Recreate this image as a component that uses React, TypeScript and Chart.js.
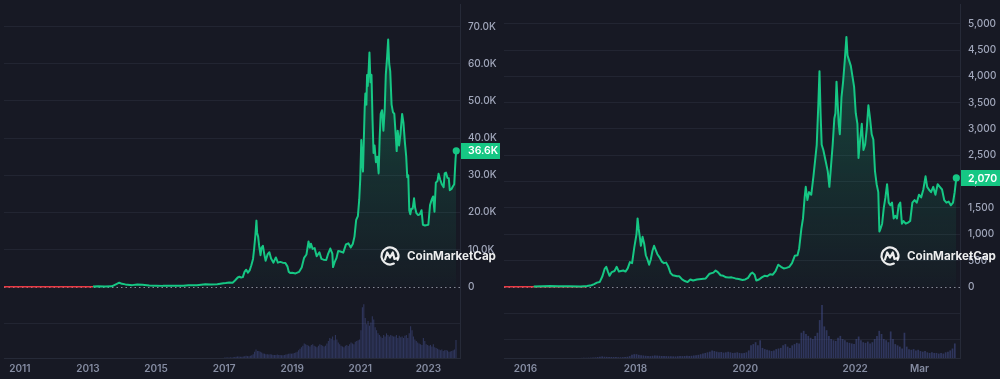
import React, { useEffect, useRef } from 'react';
import { Chart, registerables } from 'chart.js';
Chart.register(...registerables);

// ---------------- Bitcoin ----------------
const BTC_DATES = [
  2013.15, 2013.3, 2013.5, 2013.7, 2013.85, 2013.92, 2014.0, 2014.1, 2014.3, 2014.45, 2014.6, 2014.8,
  2015.0, 2015.2, 2015.5, 2015.8, 2015.95, 2016.2, 2016.45, 2016.6, 2016.8, 2016.98, 2017.05, 2017.15,
  2017.25, 2017.32, 2017.4, 2017.45, 2017.5, 2017.55, 2017.6, 2017.65, 2017.7, 2017.75, 2017.8, 2017.85,
  2017.88, 2017.92, 2017.95, 2017.97, 2018.0, 2018.03, 2018.07, 2018.1, 2018.14, 2018.18, 2018.22, 2018.28,
  2018.33, 2018.38, 2018.45, 2018.52, 2018.58, 2018.65, 2018.72, 2018.8, 2018.86, 2018.9, 2018.95, 2019.0,
  2019.1, 2019.2, 2019.28, 2019.35, 2019.42, 2019.48, 2019.52, 2019.55, 2019.6, 2019.66, 2019.72, 2019.8,
  2019.86, 2019.92, 2020.0, 2020.05, 2020.12, 2020.18, 2020.2, 2020.25, 2020.3, 2020.35, 2020.42, 2020.5,
  2020.58, 2020.65, 2020.72, 2020.78, 2020.83, 2020.88, 2020.93, 2020.97, 2021.0, 2021.03, 2021.06, 2021.08,
  2021.1, 2021.13, 2021.15, 2021.18, 2021.2, 2021.22, 2021.25, 2021.27, 2021.3, 2021.33, 2021.36, 2021.39,
  2021.42, 2021.46, 2021.5, 2021.54, 2021.57, 2021.6, 2021.64, 2021.68, 2021.72, 2021.75, 2021.79, 2021.82,
  2021.85, 2021.88, 2021.92, 2021.96, 2022.0, 2022.04, 2022.07, 2022.1, 2022.14, 2022.18, 2022.23, 2022.27,
  2022.31, 2022.35, 2022.38, 2022.41, 2022.44, 2022.47, 2022.5, 2022.54, 2022.58, 2022.61, 2022.65, 2022.7,
  2022.75, 2022.8, 2022.84, 2022.9, 2022.96, 2023.0, 2023.05, 2023.1, 2023.14, 2023.18, 2023.22, 2023.27,
  2023.3, 2023.35, 2023.4, 2023.45, 2023.48, 2023.52, 2023.56, 2023.6, 2023.63, 2023.68, 2023.72, 2023.76,
  2023.8, 2023.82,
];
const BTC_PRICES = [
  50, 130, 100, 130, 800, 1100, 800, 650, 450, 620, 580, 380,
  300, 250, 260, 300, 430, 420, 700, 600, 700, 960, 1000, 1150,
  1100, 1700, 2500, 2700, 2500, 2600, 4000, 4600, 3800, 4400, 5800, 7500,
  10000, 14000, 17800, 14500, 13500, 11000, 8500, 10500, 11000, 8800, 7000, 8800,
  9300, 7600, 6500, 7900, 6500, 6700, 6500, 6400, 5500, 4000, 3700, 3800,
  3600, 4000, 5200, 7800, 8700, 12200, 10500, 11600, 10200, 10400, 8200, 9300,
  7500, 7300, 7200, 8700, 10300, 8900, 5300, 6700, 7700, 9600, 9500, 9200,
  11400, 11700, 10600, 11500, 13500, 18000, 19000, 23500, 29000, 39500, 33000, 31000,
  38000, 48000, 52000, 49000, 57000, 54000, 59000, 63000, 55000, 57000, 45000, 36000,
  38000, 33500, 35000, 30500, 40000, 46500, 47500, 42000, 48000, 57000, 62000, 66500,
  60000, 58000, 49000, 47000, 46500, 41000, 36500, 42000, 38000, 41000, 46500, 44000,
  39000, 35000, 29500, 30000, 20500, 19500, 21000, 21000, 23800, 21300, 19800, 19300,
  19500, 20600, 16700, 16500, 16600, 16700, 22000, 23500, 24300, 20200, 28000, 28500,
  30400, 28800, 27500, 26800, 30500, 30700, 29300, 29200, 26000, 26300, 27000, 27600,
  34500, 36600,
];
const BTC_RED_DATES = [2010.534, 2013.15];
const BTC_RED_VALUES = [0, 0];
const BTC_VOL_START = 2017.0;
// half-monthly volume, billions USD
const BTC_VOLUMES = [
  3, 3, 3, 4, 4, 4, 5, 6, 8, 10, 9, 8, 8, 9, 12, 14, 12, 12, 14, 18, 25, 40, 55, 45,
  45, 40, 35, 30, 28, 25, 25, 22, 25, 22, 20, 20, 20, 22, 20, 20, 18, 18, 20, 22, 25, 28, 30, 28,
  30, 32, 35, 40, 50, 60, 70, 80, 95, 90, 85, 80, 75, 85, 90, 80, 75, 70, 80, 90, 85, 80, 75, 80,
  95, 110, 130, 125, 140, 115, 150, 120, 100, 90, 80, 75, 70, 80, 85, 78, 90, 100, 95, 90, 105, 110, 115, 120,
  180, 330, 350, 260, 220, 240, 210, 230, 272, 250, 200, 180, 160, 150, 140, 130, 150, 140, 160, 150, 140, 150, 145, 140,
  140, 150, 130, 145, 135, 140, 130, 145, 150, 130, 160, 207, 180, 140, 120, 110, 100, 95, 90, 85, 130, 110, 90, 85,
  80, 85, 75, 90, 70, 65, 60, 55, 50, 55, 45, 50, 52, 48, 40, 42, 45, 50, 55, 117,
];
const BTC_Y_TICKS = [-10000, 0, 10000, 20000, 30000, 40000, 50000, 60000, 70000];
const BTC_X_TICKS = [2011, 2013, 2015, 2017, 2019, 2021, 2023];
const BTC_X_LABELS = ['2011', '2013', '2015', '2017', '2019', '2021', '2023'];

// ---------------- Ethereum ----------------
const ETH_DATES = [
  2016.15, 2016.3, 2016.45, 2016.6, 2016.8, 2017.0, 2017.12, 2017.2, 2017.25, 2017.3, 2017.35, 2017.4,
  2017.44, 2017.47, 2017.5, 2017.53, 2017.57, 2017.62, 2017.66, 2017.7, 2017.74, 2017.78, 2017.82, 2017.86,
  2017.9, 2017.94, 2017.98, 2018.02, 2018.04, 2018.06, 2018.08, 2018.1, 2018.13, 2018.16, 2018.19, 2018.22,
  2018.25, 2018.28, 2018.31, 2018.34, 2018.37, 2018.4, 2018.44, 2018.48, 2018.52, 2018.56, 2018.6, 2018.64,
  2018.68, 2018.72, 2018.76, 2018.8, 2018.85, 2018.9, 2018.95, 2019.0, 2019.05, 2019.12, 2019.2, 2019.28,
  2019.35, 2019.42, 2019.46, 2019.5, 2019.55, 2019.6, 2019.65, 2019.7, 2019.75, 2019.82, 2019.88, 2019.95,
  2020.0, 2020.05, 2020.1, 2020.13, 2020.17, 2020.2, 2020.25, 2020.3, 2020.35, 2020.4, 2020.45, 2020.5,
  2020.55, 2020.6, 2020.65, 2020.7, 2020.75, 2020.8, 2020.85, 2020.9, 2020.95, 2020.98, 2021.02, 2021.05,
  2021.08, 2021.1, 2021.13, 2021.16, 2021.2, 2021.24, 2021.27, 2021.3, 2021.33, 2021.35, 2021.37, 2021.39,
  2021.42, 2021.46, 2021.5, 2021.53, 2021.56, 2021.59, 2021.62, 2021.64, 2021.66, 2021.68, 2021.7, 2021.72,
  2021.75, 2021.78, 2021.81, 2021.84, 2021.86, 2021.89, 2021.92, 2021.95, 2021.98, 2022.01, 2022.04, 2022.06,
  2022.09, 2022.12, 2022.15, 2022.18, 2022.21, 2022.24, 2022.27, 2022.3, 2022.33, 2022.36, 2022.39, 2022.42,
  2022.44, 2022.46, 2022.49, 2022.52, 2022.55, 2022.58, 2022.61, 2022.64, 2022.67, 2022.7, 2022.73, 2022.76,
  2022.79, 2022.82, 2022.85, 2022.88, 2022.92, 2022.96, 2023.0, 2023.04, 2023.08, 2023.12, 2023.16, 2023.2,
  2023.24, 2023.28, 2023.31, 2023.34, 2023.38, 2023.42, 2023.46, 2023.5, 2023.54, 2023.58, 2023.62, 2023.66,
  2023.7, 2023.74, 2023.78, 2023.81, 2023.84,
];
const ETH_PRICES = [
  6, 10, 14, 11, 11, 8, 14, 30, 50, 80, 90, 200,
  340, 380, 290, 210, 280, 300, 380, 290, 300, 310, 290, 350,
  470, 450, 750, 1000, 1300, 1100, 950, 780, 950, 820, 600, 520,
  420, 520, 680, 780, 700, 620, 560, 480, 450, 460, 380, 260,
  220, 210, 200, 200, 140, 110, 90, 140, 120, 140, 150, 160,
  250, 270, 310, 280, 220, 210, 180, 175, 180, 160, 150, 130,
  140, 170, 250, 270, 230, 120, 140, 180, 210, 200, 240, 230,
  300, 420, 380, 350, 360, 380, 450, 590, 600, 730, 1100, 1300,
  1700, 1900, 1650, 1800, 1750, 2100, 2400, 2700, 3500, 4100, 3300, 2700,
  2600, 2400, 2200, 1900, 2300, 2700, 3200, 3300, 3900, 3500, 3100, 2900,
  3600, 3900, 4300, 4750, 4400, 4300, 4200, 4000, 3800, 3300, 3100, 2450,
  2800, 3100, 2600, 2700, 3000, 3450, 3200, 2900, 2800, 2200, 1950, 1800,
  1050, 1100, 1200, 1500, 1700, 1950, 1600, 1550, 1600, 1300, 1350, 1300,
  1550, 1600, 1200, 1250, 1200, 1220, 1250, 1600, 1650, 1600, 1750, 1700,
  1850, 2100, 1900, 1850, 1800, 1900, 1750, 1950, 1900, 1850, 1650, 1600,
  1620, 1550, 1600, 1800, 2070,
];
const ETH_RED_DATES = [2015.609, 2017.1];
const ETH_RED_VALUES = [0, 0];
const ETH_VOL_START = 2017.0;
const ETH_VOLUMES = [
  0.2, 0.3, 0.3, 0.5, 0.6, 0.8, 1.0, 1.5, 2, 2.5, 2, 1.8, 1.5, 1.6, 1.5, 1.4, 1.2, 1.2, 1.3, 1.5, 2, 3, 5, 6,
  6, 5, 4.5, 4, 3.5, 3.2, 3, 3.5, 4, 3.8, 3.5, 3.2, 3, 3, 2.8, 2.7, 2.6, 2.5, 2.8, 3, 3, 3.2, 3.5, 3.2,
  3.5, 4, 4.5, 5, 6, 7, 8, 9, 10, 12, 11, 10, 9, 9.5, 8.5, 9, 10, 9, 8, 8.5, 9, 8, 7.5, 8,
  9, 12, 20, 22, 25, 20, 28, 16, 14, 13, 12, 11, 12, 14, 15, 16, 20, 22, 18, 16, 20, 22, 24, 23,
  40, 43, 38, 35, 32, 30, 35, 40, 60, 84, 50, 44, 35, 30, 28, 27, 32, 35, 30, 28, 25, 24, 23, 22,
  30, 34, 28, 25, 24, 26, 23, 25, 30, 35, 43, 38, 30, 28, 25, 42, 30, 22, 20, 18, 15, 40, 18, 14,
  13, 14, 12, 13, 11, 10, 11, 9, 8, 9, 8, 8, 7, 8, 7, 9, 10, 12, 15, 23,
];
const ETH_Y_TICKS = [-1000, -500, 0, 500, 1000, 1500, 2000, 2500, 3000, 3500, 4000, 4500, 5000];
const ETH_X_TICKS = [2016, 2018, 2020, 2022, 2023.17];
const ETH_X_LABELS = ['2016', '2018', '2020', '2022', 'Mar'];

const VOL_STEP = 1 / 24;
const BG = '#171924';
const GREEN = '#16c784';
const RED = '#ea3943';
const GRID = '#222532';

type Spec = {
  dates: number[]; prices: number[]; redDates: number[]; redValues: number[];
  volStart: number; volumes: number[]; yTicks: number[]; xTicks: number[]; xLabels: string[];
  xMin: number; xMax: number; yMin: number; yMax: number; volMax: number;
  fmt: (v: number) => string; badgeFmt: (v: number) => string;
};

function makeConfig(s: Spec): any {
  const last = s.prices.length - 1;
  const overlay = {
    id: 'overlay',
    beforeDatasetsDraw(chart: any) {
      const { ctx, chartArea, scales } = chart;
      const y0 = Math.round(scales.y.getPixelForValue(0)) + 0.5;
      ctx.save();
      ctx.strokeStyle = 'rgba(205,210,225,0.6)';
      ctx.lineWidth = 1.2;
      ctx.setLineDash([1.5, 3]);
      ctx.beginPath();
      ctx.moveTo(chartArea.left, y0);
      ctx.lineTo(chartArea.right, y0);
      ctx.stroke();
      ctx.restore();
    },
    afterDraw(chart: any) {
      const { ctx, chartArea, scales, width } = chart;
      // price badge
      const lv = s.prices[last];
      const by = scales.y.getPixelForValue(lv);
      ctx.save();
      ctx.fillStyle = GREEN;
      ctx.fillRect(chartArea.right + 1, Math.round(by - 8), width - chartArea.right - 1, 16);
      ctx.fillStyle = '#ffffff';
      ctx.font = '600 10.5px Inter, "Noto Sans", sans-serif';
      ctx.textBaseline = 'middle';
      ctx.textAlign = 'left';
      ctx.fillText(s.badgeFmt(lv), chartArea.right + 8, by + 0.5);
      // watermark
      const cy = 256;
      const cx = 390;
      ctx.strokeStyle = 'rgba(255,255,255,0.92)';
      ctx.lineWidth = 2.2;
      ctx.lineCap = 'round';
      ctx.lineJoin = 'round';
      ctx.beginPath();
      ctx.arc(cx, cy, 8.5, Math.PI * 0.35, Math.PI * 2.15);
      ctx.stroke();
      ctx.beginPath();
      ctx.moveTo(cx - 5, cy + 3.5);
      ctx.lineTo(cx - 2.8, cy - 3.5);
      ctx.lineTo(cx, cy + 1.5);
      ctx.lineTo(cx + 2.8, cy - 3.5);
      ctx.lineTo(cx + 4.5, cy + 3);
      ctx.lineTo(cx + 7.5, cy + 2);
      ctx.stroke();
      const text = 'CoinMarketCap';
      ctx.font = '700 13px Inter, "Noto Sans", sans-serif';
      const w = ctx.measureText(text).width;
      const size = 13 * 89 / w;
      ctx.font = `700 ${size}px Inter, "Noto Sans", sans-serif`;
      ctx.fillStyle = 'rgba(255,255,255,0.92)';
      ctx.textBaseline = 'middle';
      ctx.fillText(text, 407, cy + 0.5);
      ctx.restore();
    },
  };

  return {
    type: 'line',
    data: {
      datasets: [
        {
          type: 'line',
          data: s.dates.map((x, i) => ({ x, y: s.prices[i] })),
          borderColor: GREEN,
          borderWidth: 2,
          borderJoinStyle: 'round',
          tension: 0,
          fill: 'origin',
          backgroundColor: (c: any) => {
            const chart = c.chart;
            const { ctx, chartArea, scales } = chart;
            if (!chartArea) return 'rgba(22,199,132,0.1)';
            const y0 = scales.y.getPixelForValue(0);
            const g = ctx.createLinearGradient(0, chartArea.top + 20, 0, y0);
            g.addColorStop(0, 'rgba(22,199,132,0.30)');
            g.addColorStop(0.6, 'rgba(22,199,132,0.12)');
            g.addColorStop(1, 'rgba(22,199,132,0.02)');
            return g;
          },
          pointRadius: (c: any) => (c.dataIndex === last ? 3.6 : 0),
          pointBackgroundColor: GREEN,
          pointBorderWidth: 0,
          yAxisID: 'y',
          order: 1,
        },
        {
          type: 'line',
          data: s.redDates.map((x, i) => ({ x, y: s.redValues[i] })),
          borderColor: RED,
          borderWidth: 1.6,
          pointRadius: 0,
          fill: false,
          yAxisID: 'y',
          order: 2,
        },
        {
          type: 'bar',
          data: s.volumes.map((v, i) => ({ x: s.volStart + i * VOL_STEP + VOL_STEP / 2, y: v })),
          backgroundColor: 'rgba(72,84,150,0.5)',
          barPercentage: 0.75,
          categoryPercentage: 1,
          grouped: false,
          yAxisID: 'yv',
          order: 3,
        },
      ],
    },
    options: {
      responsive: false,
      animation: false,
      events: [],
      layout: { padding: 0 },
      plugins: { legend: { display: false }, tooltip: { enabled: false } },
      scales: {
        x: {
          type: 'linear',
          offset: false,
          min: s.xMin,
          max: s.xMax,
          grid: { display: false, drawTicks: false, offset: false },
          border: { display: true, color: '#262a38' },
          afterBuildTicks: (sc: any) => { sc.ticks = s.xTicks.map((v) => ({ value: v })); },
          afterFit: (sc: any) => { sc.height = 21; sc.paddingLeft = 0; sc.paddingRight = 0; },
          ticks: {
            autoSkip: false,
            maxRotation: 0,
            padding: 5,
            color: '#858ca2',
            font: { family: 'Inter', size: 10, weight: '600' },
            callback: (v: number) => {
              const i = s.xTicks.indexOf(v);
              return i >= 0 ? s.xLabels[i] : '';
            },
          },
        },
        y: {
          type: 'linear',
          position: 'right',
          min: s.yMin,
          max: s.yMax,
          grid: {
            drawTicks: false,
            color: (c: any) => (c.tick && c.tick.value === 0 ? 'rgba(0,0,0,0)' : GRID),
          },
          border: { display: true, color: '#262a38' },
          afterBuildTicks: (sc: any) => { sc.ticks = s.yTicks.map((v) => ({ value: v })); },
          afterFit: (sc: any) => { sc.width = 40; sc.paddingTop = 0; sc.paddingBottom = 0; },
          ticks: {
            crossAlign: 'near',
            padding: 8,
            color: '#a1a7bb',
            font: { family: 'Inter', size: 10, weight: '500' },
            callback: (v: number) => (v < 0 ? '' : s.fmt(v)),
          },
        },
        yv: {
          type: 'linear',
          display: false,
          min: 0,
          max: s.volMax,
        },
      },
    },
    plugins: [overlay],
  };
}

const BTC_SPEC: Spec = {
  dates: BTC_DATES, prices: BTC_PRICES, redDates: BTC_RED_DATES, redValues: BTC_RED_VALUES,
  volStart: BTC_VOL_START, volumes: BTC_VOLUMES, yTicks: BTC_Y_TICKS, xTicks: BTC_X_TICKS, xLabels: BTC_X_LABELS,
  xMin: 2010.534, xMax: 2023.93, yMin: -19149, yMax: 76064, volMax: 2300,
  fmt: (v) => (v === 0 ? '0' : (v / 1000).toFixed(1) + 'K'),
  badgeFmt: (v) => (v / 1000).toFixed(1) + 'K',
};

const ETH_SPEC: Spec = {
  dates: ETH_DATES, prices: ETH_PRICES, redDates: ETH_RED_DATES, redValues: ETH_RED_VALUES,
  volStart: ETH_VOL_START, volumes: ETH_VOLUMES, yTicks: ETH_Y_TICKS, xTicks: ETH_X_TICKS, xLabels: ETH_X_LABELS,
  xMin: 2015.609, xMax: 2023.907, yMin: -1353, yMax: 5376, volMax: 560,
  fmt: (v) => v.toLocaleString('en-US'),
  badgeFmt: (v) => v.toLocaleString('en-US'),
};

function PriceChart({ spec }: { spec: Spec }) {
  const ref = useRef<HTMLCanvasElement | null>(null);
  useEffect(() => {
    if (!ref.current) return;
    const chart = new Chart(ref.current, makeConfig(spec));
    return () => chart.destroy();
  }, [spec]);
  return <canvas ref={ref} width={500} height={379} style={{ display: 'block', width: 500, height: 379 }} />;
}

export default function App() {
  useEffect(() => {
    document.body.style.margin = '0';
    document.body.style.background = BG;
  }, []);
  return (
    <div style={{ position: 'fixed', left: 0, top: 0, width: 1000, height: 379, background: BG, display: 'flex' }}>
      <PriceChart spec={BTC_SPEC} />
      <PriceChart spec={ETH_SPEC} />
    </div>
  );
}
